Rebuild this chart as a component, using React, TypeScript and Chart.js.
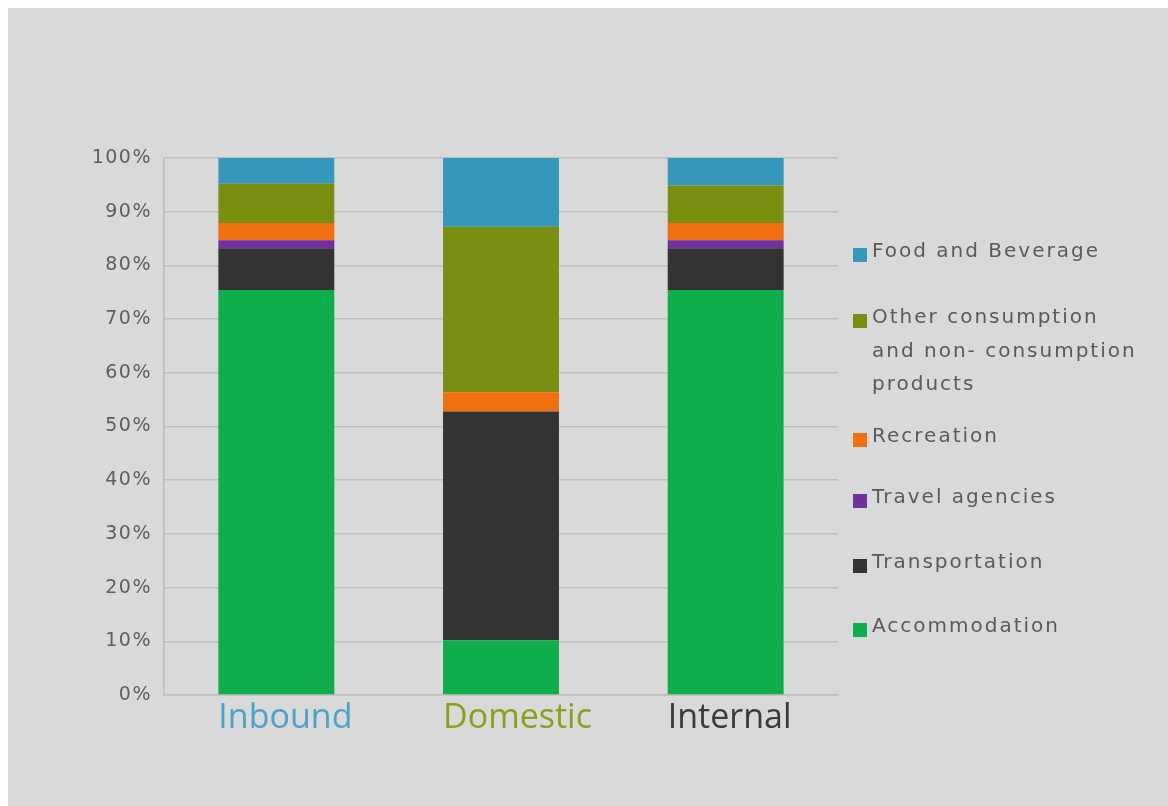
import React, { useEffect, useRef } from "react";
import { Chart, registerables } from "chart.js";

Chart.register(...registerables);

const categories = ["Inbound", "Domestic", "Internal"];
const categoryColors = ["#4ba3cc", "#8c9f1c", "#3a3a3a"];

const seriesNames = [
  "Accommodation",
  "Transportation",
  "Travel agencies",
  "Recreation",
  "Other consumption and non- consumption products",
  "Food and Beverage",
];
const seriesColors = ["#10ad4c", "#333333", "#7030a0", "#f07010", "#7a8f12", "#3597b9"];

const accommodation = [75.4, 10.2, 75.4];
const transportation = [7.8, 42.6, 7.8];
const travelAgencies = [1.5, 0, 1.5];
const recreation = [3.2, 3.6, 3.2];
const otherProducts = [7.3, 30.8, 7.0];
const foodBeverage = [4.8, 12.8, 5.1];

const seriesValues = [accommodation, transportation, travelAgencies, recreation, otherProducts, foodBeverage];

const yTicks = [0, 10, 20, 30, 40, 50, 60, 70, 80, 90, 100];

// legend layout: wrapped label lines, drawn top to bottom (reverse of stack)
const legendLines = [
  ["Food and Beverage"],
  ["Other consumption", "and non- consumption", "products"],
  ["Recreation"],
  ["Travel agencies"],
  ["Transportation"],
  ["Accommodation"],
];
const legendItemY = [244, 310, 429, 490, 555, 619];

export default function App() {
  const ref = useRef<HTMLCanvasElement | null>(null);

  useEffect(() => {
    if (!ref.current) return;
    const spacingPlugin = {
      id: "spacing",
      beforeDraw(chart: any) {
        (chart.ctx as any).letterSpacing = "1.5px";
      },
    };
    const labelsPlugin = {
      id: "leftLabels",
      afterDraw(chart: any) {
        const ctx = chart.ctx as CanvasRenderingContext2D;
        const meta = chart.getDatasetMeta(0);
        ctx.save();
        (ctx as any).letterSpacing = "0px";
        ctx.font = "34px 'Open Sans'";
        ctx.textAlign = "left";
        ctx.textBaseline = "alphabetic";
        categories.forEach((c, i) => {
          const bar = meta.data[i];
          const left = bar.x - bar.width / 2;
          ctx.fillStyle = categoryColors[i];
          ctx.fillText(c, left, chart.chartArea.bottom + 33);
        });
        ctx.restore();
      },
    };
    const legendPlugin = {
      id: "sideLegend",
      afterDraw(chart: any) {
        const ctx = chart.ctx as CanvasRenderingContext2D;
        ctx.save();
        ctx.font = "20px 'DejaVu Sans'";
        (ctx as any).letterSpacing = "2px";
        ctx.textBaseline = "middle";
        ctx.textAlign = "left";
        const order = [5, 4, 3, 2, 1, 0];
        order.forEach((si, i) => {
          const y0 = legendItemY[i];
          ctx.fillStyle = seriesColors[si];
          ctx.fillRect(845, y0 - 4, 14, 14);
          ctx.fillStyle = "#5a5a5a";
          legendLines[i].forEach((line, li) => {
            ctx.fillText(line, 864, y0 + li * 33.5);
          });
        });
        ctx.restore();
        (ctx as any).letterSpacing = "0px";
      },
    };

    const chart = new Chart(ref.current, {
      type: "bar",
      data: {
        labels: categories,
        datasets: seriesNames.map((name, i) => ({
          label: name,
          data: seriesValues[i],
          backgroundColor: seriesColors[i],
          borderWidth: 0,
          categoryPercentage: 1,
          barPercentage: 0.516,
        })),
      },
      options: {
        animation: false,
        responsive: false,
        maintainAspectRatio: false,
        layout: { padding: { top: 150, right: 338, left: 0, bottom: 0 } },
        plugins: {
          legend: { display: false },
          tooltip: { enabled: false },
        },
        scales: {
          x: {
            stacked: true,
            grid: { display: false, drawTicks: false },
            border: { display: true, color: "#bdbdbd", width: 1.5 },
            ticks: { display: false },
            afterFit: (s: any) => {
              s.height = 119;
            },
          },
          y: {
            stacked: true,
            min: 0,
            max: 100,
            afterBuildTicks: (s: any) => {
              s.ticks = yTicks.map((v) => ({ value: v }));
            },
            grid: { color: "#bfbfbf", lineWidth: 1.5, drawTicks: false },
            border: { display: true, color: "#bdbdbd", width: 1.5 },
            ticks: {
              padding: 12,
              color: "#5e5e5e",
              font: { family: "'DejaVu Sans'", size: 19 },
              callback: (v: any) => v + "%",
            },
            afterFit: (s: any) => {
              s.width = 156;
            },
          },
        },
      },
      plugins: [spacingPlugin, labelsPlugin, legendPlugin],
    });
    return () => chart.destroy();
  }, []);

  return (
    <div
      style={{
        position: "fixed",
        top: 0,
        left: 0,
        right: 0,
        bottom: 0,
        overflow: "hidden",
        background: "#ffffff",
      }}
    >
      <canvas
        ref={ref}
        width={1168}
        height={806}
        style={{ position: "absolute", left: 8, top: 8, display: "block", background: "#d9d9d9" }}
      />
    </div>
  );
}
